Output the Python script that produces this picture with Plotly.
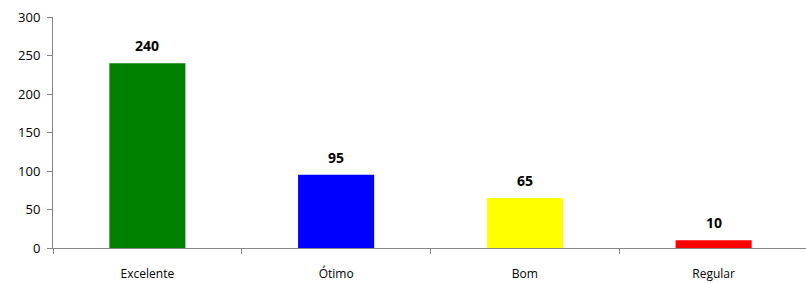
import plotly.graph_objects as go

categories = ["Excelente", "Ótimo", "Bom", "Regular"]
values = [240, 95, 65, 10]
colors = ["#008000", "#0000FF", "#FFFF00", "#FF0000"]
y_ticks = [0, 50, 100, 150, 200, 250, 300]

FONT = "Open Sans, Liberation Sans, sans-serif"

fig = go.Figure(go.Bar(
    x=categories, y=values, marker=dict(color=colors, line=dict(width=0)),
    width=0.403, cliponaxis=False,
))
for c, v in zip(categories, values):
    fig.add_annotation(x=c, y=v, text=f"<b>{v}</b>", showarrow=False,
                       yanchor="bottom", yshift=6,
                       font=dict(family=FONT, size=14, color="#000000"))
fig.update_layout(
    width=808, height=284,
    margin=dict(l=53, r=0, t=17, b=36, autoexpand=False),
    plot_bgcolor="white", paper_bgcolor="white",
    showlegend=False,
    font=dict(family=FONT, size=12, color="#000000"),
)
fig.update_xaxes(
    showline=True, linecolor="#868686", linewidth=1, automargin=False,
    ticks="outside", tickson="boundaries", ticklen=5, tickcolor="#868686",
    showgrid=False, tickfont=dict(size=12), ticklabelstandoff=15,
)
fig.update_yaxes(
    range=[0, 300], tickvals=y_ticks, showline=True, linecolor="#868686", linewidth=1,
    ticks="outside", ticklen=5, tickcolor="#868686", showgrid=False, zeroline=False,
    tickfont=dict(size=13), automargin=False, ticklabelstandoff=4,
)
fig.write_html("out.html", config={"displayModeBar": False},
               post_script="document.body.style.margin='0';")
